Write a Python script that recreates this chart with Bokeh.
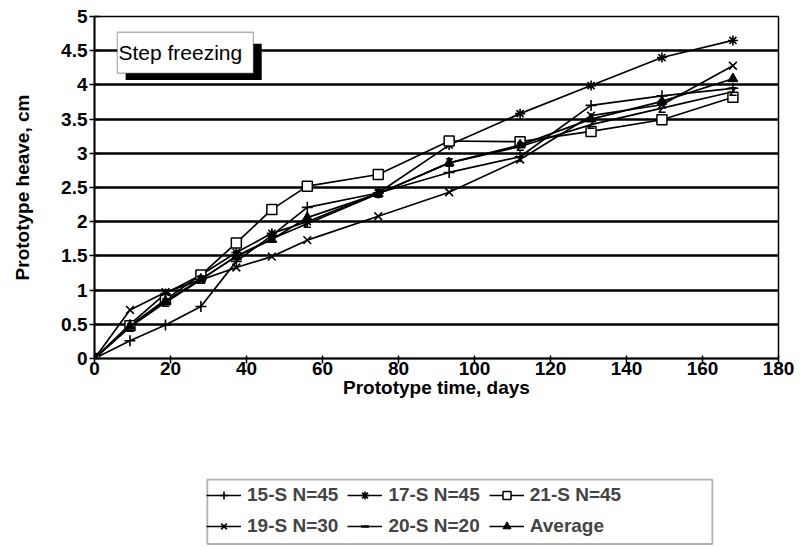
import math
from bokeh.plotting import figure
from bokeh.layouts import column
from bokeh.models import (Legend, LegendItem, BoxAnnotation, Label, FixedTicker,
                          NumeralTickFormatter, ColumnDataSource)
from bokeh.core.properties import value
from bokeh.embed import file_html
from bokeh.resources import INLINE

days = [0, 9.33, 18.67, 28, 37.33, 46.67, 56, 74.67, 93.33, 112, 130.67, 149.33, 168]
s15 = [0, 0.26, 0.49, 0.76, 1.42, 1.80, 2.21, 2.42, 2.72, 2.95, 3.70, 3.84, 3.95]
s17 = [0, 0.50, 0.95, 1.22, 1.55, 1.83, 2.00, 2.42, 3.12, 3.58, 3.99, 4.40, 4.65]
s21 = [0, 0.48, 0.86, 1.22, 1.69, 2.18, 2.52, 2.69, 3.18, 3.17, 3.32, 3.49, 3.82]
s19 = [0, 0.71, 0.97, 1.15, 1.33, 1.49, 1.73, 2.08, 2.43, 2.91, 3.55, 3.71, 4.28]
s20 = [0, 0.46, 0.82, 1.15, 1.50, 1.75, 1.97, 2.41, 2.86, 3.10, 3.42, 3.66, 3.90]
avg = [0, 0.47, 0.84, 1.16, 1.49, 1.74, 2.06, 2.41, 2.86, 3.12, 3.50, 3.76, 4.09]

labels = ["15-S N=45", "17-S N=45", "21-S N=45", "19-S N=30", "20-S N=20", "Average"]
y_ticks = [0, 0.5, 1, 1.5, 2, 2.5, 3, 3.5, 4, 4.5, 5]
x_ticks = [0, 20, 40, 60, 80, 100, 120, 140, 160, 180]

FONT = "Liberation Sans"

src = ColumnDataSource(dict(days=days, s15=s15, s17=s17, s21=s21, s19=s19, s20=s20, avg=avg,
                            z=["Z"] * len(days)))

p = figure(width=800, height=420, output_backend="svg", toolbar_location=None,
           x_range=(0, 180), y_range=(0, 5),
           min_border_left=94, min_border_right=22, min_border_top=16, min_border_bottom=62)
p.background_fill_color = "white"
p.border_fill_color = "white"
p.outline_line_color = "black"
p.outline_line_width = 1.5

p.xgrid.visible = False
p.ygrid.ticker = FixedTicker(ticks=y_ticks)
p.ygrid.grid_line_color = "black"
p.ygrid.grid_line_width = 2.4

for ax in (p.xaxis[0], p.yaxis[0]):
    ax.axis_line_color = "black"
    ax.axis_line_width = 1.8
    ax.major_tick_line_color = "black"
    ax.major_tick_line_width = 1.5
    ax.minor_tick_line_color = None
    ax.major_label_text_font = FONT
    ax.major_label_text_font_size = "19px"
    ax.major_label_text_font_style = "bold"
    ax.major_label_text_color = "black"
    ax.axis_label_text_font = FONT
    ax.axis_label_text_font_size = "19px"
    ax.axis_label_text_font_style = "bold"
    ax.axis_label_text_color = "black"

p.xaxis.ticker = FixedTicker(ticks=x_ticks)
p.yaxis.ticker = FixedTicker(ticks=y_ticks)
p.yaxis.formatter = NumeralTickFormatter(format="0.[0]")
p.xaxis.axis_label = "Prototype time, days"
p.yaxis.axis_label = "Prototype heave, cm"
p.xaxis.major_tick_in = 3
p.xaxis.major_tick_out = 5
p.yaxis.major_tick_in = 5
p.yaxis.major_tick_out = 5
p.xaxis.major_label_standoff = -2
p.yaxis.major_label_standoff = 2
p.xaxis.axis_label_standoff = -1
p.yaxis.axis_label_standoff = 25

# legend-only figure below the chart (its glyphs fall outside its ranges)
q = figure(width=800, height=126, output_backend="svg", toolbar_location=None,
           x_range=(0, 180), y_range=(100, 101),
           min_border_left=94, min_border_right=22, min_border_top=0, min_border_bottom=0)
q.axis.visible = False
q.grid.visible = False
q.outline_line_color = None
q.background_fill_color = "white"
q.border_fill_color = "white"

LW = 1.7


def add_series(fig, col, marker, size, fill, lw, main):
    r = fig.line("days", col, source=src, line_color="black", line_width=LW)
    rs = [r]
    if marker == "Z":
        if main:
            rs.append(fig.text("days", col, text="z", source=src, text_font=value(FONT),
                               text_font_size="13px", text_font_style="bold", text_align="center",
                               text_baseline="middle", text_color="black"))
        else:
            rs.append(fig.scatter("days", col, source=src, marker="dash", size=11,
                                  angle=math.pi / 3, line_color="black", line_width=2))
            rs.append(fig.scatter("days", col, source=src, marker="dash", size=9,
                                  line_color="black", line_width=2))
    else:
        rs.append(fig.scatter("days", col, source=src, marker=marker, size=size,
                              line_color="black", fill_color=fill, line_width=lw))
    return rs


specs = [("s15", "cross", 11, None, 1.6),
         ("s17", "asterisk", 10, None, 1.6),
         ("s21", "square", 10, "white", 1.5),
         ("s19", "x", 11, None, 1.6),
         ("s20", "Z", 0, None, 1.5),
         ("avg", "triangle", 10, "black", 1.0)]

items = []
for (col, marker, size, fill, lw), lab in zip(specs, labels):
    add_series(p, col, marker, size, fill, lw, True)
    rs = add_series(q, col, marker, size, fill, lw, False)
    items.append(LegendItem(label=lab, renderers=rs))

# "Step freezing" box with shadow
p.add_layout(BoxAnnotation(left=8.2, right=44.0, top=4.6, bottom=4.07, fill_color="black",
                           fill_alpha=1, line_color="black", line_width=0))
p.add_layout(BoxAnnotation(left=6.0, right=41.8, top=4.77, bottom=4.17, fill_color="white",
                           fill_alpha=1, line_color="black", line_width=1.3))
p.add_layout(Label(x=6.3, y=4.47, text="Step freezing", text_font=FONT, text_font_size="21px",
                   text_baseline="middle", text_align="left", text_color="black"))

# legend frame (wider than its items, as in the original)
q.add_layout(BoxAnnotation(left=29.7, right=162.6, top=100.53, bottom=100.02,
                           fill_color="white", fill_alpha=1, line_color="black", line_width=1.8,
                           level="underlay"))

legend = Legend(items=items, orientation="horizontal", ncols=3,
                location=(112, 9),
                border_line_color=None, background_fill_alpha=0,
                label_text_font=FONT, label_text_font_size="19px", label_text_font_style="bold",
                glyph_width=35, glyph_height=20, label_standoff=6, spacing=9,
                padding=7, margin=0)
q.add_layout(legend, "center")

layout = column(p, q, spacing=0)
open("out.html", "w").write(file_html(layout, INLINE))
